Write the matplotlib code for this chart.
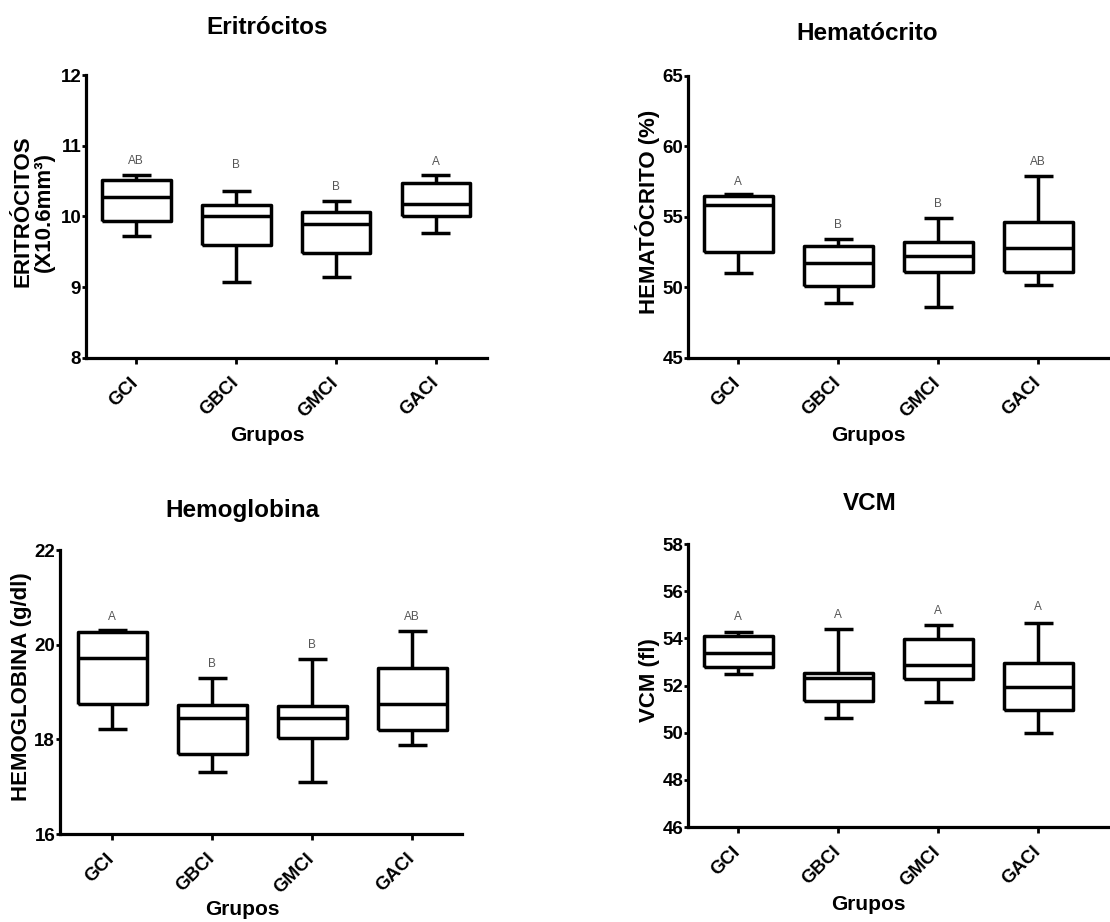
import matplotlib
matplotlib.use("Agg")
import matplotlib.pyplot as plt

plt.rcParams['font.family'] = ['Liberation Sans', 'DejaVu Sans']

groups = ['GCI', 'GBCI', 'GMCI', 'GACI']

# Eritrócitos
eri_whislo = [9.72, 9.07, 9.15, 9.77]
eri_q1 = [9.94, 9.60, 9.48, 10.01]
eri_med = [10.27, 10.01, 9.89, 10.17]
eri_q3 = [10.52, 10.16, 10.07, 10.47]
eri_whishi = [10.59, 10.36, 10.22, 10.59]
eri_letters = ['AB', 'B', 'B', 'A']
eri_letter_y = [10.78, 10.73, 10.41, 10.77]
eri_yticks = [8, 9, 10, 11, 12]

# Hematócrito
hct_whislo = [51.0, 48.9, 48.65, 50.2]
hct_q1 = [52.5, 50.12, 51.07, 51.07]
hct_med = [55.86, 51.73, 52.25, 52.79]
hct_q3 = [56.5, 52.91, 53.22, 54.61]
hct_whishi = [56.64, 53.43, 54.92, 57.92]
hct_letters = ['A', 'B', 'B', 'AB']
hct_letter_y = [57.5, 54.4, 55.9, 58.9]
hct_yticks = [45, 50, 55, 60, 65]

# Hemoglobina
hb_whislo = [18.21, 17.31, 17.10, 17.89]
hb_q1 = [18.74, 17.68, 18.02, 18.19]
hb_med = [19.71, 18.46, 18.46, 18.74]
hb_q3 = [20.26, 18.73, 18.70, 19.50]
hb_whishi = [20.31, 19.29, 19.69, 20.29]
hb_letters = ['A', 'B', 'B', 'AB']
hb_letter_y = [20.59, 19.59, 20.0, 20.59]
hb_yticks = [16, 18, 20, 22]

# VCM
vcm_whislo = [52.48, 50.61, 51.31, 50.0]
vcm_q1 = [52.79, 51.35, 52.27, 50.95]
vcm_med = [53.37, 52.31, 52.88, 51.94]
vcm_q3 = [54.11, 52.52, 53.97, 52.95]
vcm_whishi = [54.28, 54.39, 54.58, 54.67]
vcm_letters = ['A', 'A', 'A', 'A']
vcm_letter_y = [54.89, 55.0, 55.14, 55.31]
vcm_yticks = [46, 48, 50, 52, 54, 56, 58]

W, H = 1110, 922
fig = plt.figure(figsize=(W / 100, H / 100), dpi=100)
LW = 2.5


def panel(l, r, t, b, x0, ylim, yticks, whislo, q1, med, q3, whishi,
          letters, letter_y, title, title_xy, ylabel, ylabel_x, grupos_xy):
    ax = fig.add_axes([l / W, 1 - b / H, (r - l) / W, (b - t) / H])
    stats = []
    for i in range(len(groups)):
        stats.append(dict(whislo=whislo[i], q1=q1[i], med=med[i],
                          q3=q3[i], whishi=whishi[i], fliers=[]))
    lp = dict(color='black', linewidth=LW, solid_capstyle='butt')
    ax.bxp(stats, positions=range(len(groups)), widths=0.69,
           capwidths=[0.29] * len(groups), showfliers=False,
           boxprops=lp, whiskerprops=lp, capprops=lp, medianprops=lp,
           patch_artist=False)
    ax.set_xlim((l - x0) / 100.0, (r - x0) / 100.0)
    ax.set_ylim(*ylim)
    ax.set_yticks(yticks)
    ax.set_yticklabels([str(v) for v in yticks], fontsize=13.5, fontweight='bold')
    ax.set_xticks(range(len(groups)))
    ax.set_xticklabels(groups, rotation=45, ha='right', va='center',
                       rotation_mode='anchor', fontsize=13.5, fontweight='bold')
    for s in ['top', 'right']:
        ax.spines[s].set_visible(False)
    for s in ['left', 'bottom']:
        ax.spines[s].set_linewidth(2.3)
    ax.tick_params(axis='y', length=3, width=2, pad=0.5)
    ax.tick_params(axis='x', length=4, width=2, pad=12)
    for i, (lt, ly) in enumerate(zip(letters, letter_y)):
        ax.text(i, ly, lt, ha='center', va='center', fontsize=8.5, color='#555555')
    fig.text(title_xy[0] / W, 1 - title_xy[1] / H, title, ha='center', va='center',
             fontsize=17.5, fontweight='bold')
    fig.text(ylabel_x / W, 1 - ((t + b) / 2 - 5) / H, ylabel, ha='center', va='center',
             rotation=90, fontsize=16, fontweight='bold', linespacing=1.0)
    fig.text(grupos_xy[0] / W, 1 - grupos_xy[1] / H, 'Grupos', ha='center',
             va='center', fontsize=15, fontweight='bold')
    return ax


panel(86, 487, 75, 358, 136, (8, 12), eri_yticks, eri_whislo, eri_q1, eri_med,
      eri_q3, eri_whishi, eri_letters, eri_letter_y, 'Eritrócitos', (267, 28),
      'ERITRÓCITOS\n(X10.6mm³)', 34, (267, 435))
panel(688, 1135, 76, 358, 738, (45, 65), hct_yticks, hct_whislo, hct_q1, hct_med,
      hct_q3, hct_whishi, hct_letters, hct_letter_y, 'Hematócrito', (867, 33),
      'HEMATÓCRITO (%)', 647, (868, 435))
panel(60, 462, 550, 834, 112, (16, 22), hb_yticks, hb_whislo, hb_q1, hb_med,
      hb_q3, hb_whishi, hb_letters, hb_letter_y, 'Hemoglobina', (242, 510),
      'HEMOGLOBINA (g/dl)', 22, (242, 909))
panel(688, 1135, 544, 827, 738, (46, 58), vcm_yticks, vcm_whislo, vcm_q1, vcm_med,
      vcm_q3, vcm_whishi, vcm_letters, vcm_letter_y, 'VCM', (870, 504),
      'VCM (fl)', 649, (868, 904))

fig.savefig('out.png', dpi=100)
